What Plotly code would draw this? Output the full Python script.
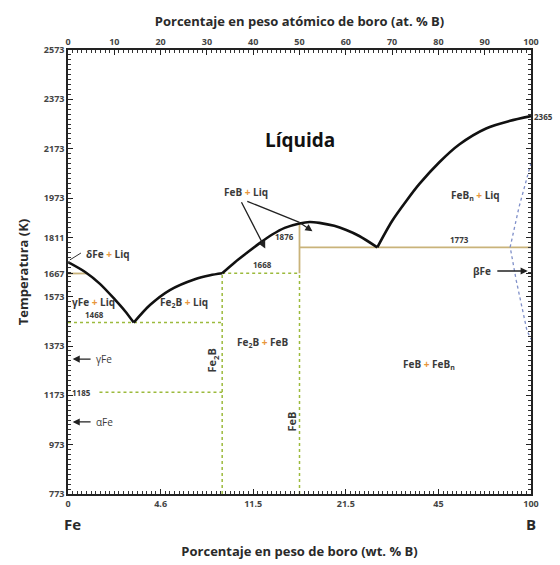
import plotly.graph_objects as go

# ---------------- data (x in at.% B, y in K) ----------------
liq_left_x = [0, 3.7, 6.9, 10.2, 12.3, 14.2]
liq_left_T = [1713, 1673, 1625, 1560, 1515, 1468]

liq_mid1_x = [14.2, 17.7, 22.0, 27.4, 30.7, 33.3]
liq_mid1_T = [1468, 1539, 1600, 1644, 1660, 1668]

liq_mid2_x = [33.3, 36.0, 38.6, 41.4, 44.2, 46.8, 50.0, 52.2, 54.3, 57.5, 60.1, 62.9, 66.8]
liq_mid2_T = [1668, 1712, 1750, 1790, 1826, 1852, 1870, 1876, 1872, 1860, 1843, 1819, 1773]

liq_right_x = [66.8, 70.0, 73.1, 75.9, 80.2, 84.5, 90.3, 95.3, 100]
liq_right_T = [1773, 1880, 1962, 2030, 2118, 2190, 2255, 2285, 2305]

beta_x = [100, 97.4, 95.5, 96.8, 99.1, 100]
beta_T = [2115, 1935, 1774, 1640, 1438, 1400]

fe2b_x = 33.3
feb_x = 50.0
T_eut1 = 1468
T_peri = 1668
T_eut2 = 1773
T_gamma = 1185
T_delta = 1667

y_ticks = [773, 973, 1173, 1373, 1573, 1667, 1811, 1973, 2173, 2373, 2573]
top_ticks = [0, 10, 20, 30, 40, 50, 60, 70, 80, 90, 100]
bottom_tickvals = [0, 20, 40, 60, 80, 100]
bottom_ticktext = ["0", "4.6", "11.5", "21.5", "45", "100"]

GREEN = "#9cba3c"
TAN = "#c9b37a"
BLUE = "#7f8fc9"
TXT = "#3a3a3a"
ORANGE = "#e8963a"
PLUS = '<span style="color:%s">+</span>' % ORANGE
FONT = "Open Sans"

fig = go.Figure()

def line(x, y, color, width, dash="solid"):
    fig.add_trace(go.Scatter(x=x, y=y, mode="lines", hoverinfo="skip",
                             line=dict(color=color, width=width, dash=dash, shape="spline", smoothing=0.8),
                             showlegend=False))

def straight(x, y, color, width, dash="solid"):
    fig.add_trace(go.Scatter(x=x, y=y, mode="lines", hoverinfo="skip",
                             line=dict(color=color, width=width, dash=dash),
                             showlegend=False))

# phase boundaries (straight)
straight([0, fe2b_x], [T_eut1, T_eut1], GREEN, 1.5, "dot")
straight([6.8, fe2b_x], [T_gamma, T_gamma], GREEN, 1.5, "dot")
straight([fe2b_x, feb_x], [T_peri, T_peri], GREEN, 1.5, "dot")
straight([fe2b_x, fe2b_x], [773, T_peri], GREEN, 1.5, "dot")
straight([feb_x, feb_x], [773, T_peri], GREEN, 1.5, "dot")
straight([feb_x, feb_x], [T_peri, 1870], TAN, 1.8)
straight([feb_x, 100], [T_eut2, T_eut2], TAN, 1.8)
straight([0, 4.0], [T_delta, T_delta], TAN, 1.8)

# beta boron solvus
straight(beta_x, beta_T, BLUE, 1.3, "dot")

# liquidus
line(liq_left_x, liq_left_T, "#111111", 2.6)
line(liq_mid1_x, liq_mid1_T, "#111111", 2.6)
line(liq_mid2_x, liq_mid2_T, "#111111", 2.6)
line(liq_right_x, liq_right_T, "#111111", 2.6)

# small hook from delta-Fe label to curve
straight([0.4, 2.8], [1722, 1750], "#333333", 1)

# invisible trace for top axis
fig.add_trace(go.Scatter(x=[0, 100], y=[773, 773], xaxis="x2", mode="markers",
                         marker=dict(opacity=0), hoverinfo="skip", showlegend=False))

ann = []
def txt(x, y, s, size=10, color=TXT, xanchor="center", yanchor="middle", angle=0, bold=True, xref="x", yref="y"):
    ann.append(dict(x=x, y=y, xref=xref, yref=yref, text=("<b>%s</b>" % s) if bold else s,
                    showarrow=False, font=dict(size=size, color=color, family=FONT),
                    xanchor=xanchor, yanchor=yanchor, textangle=angle))

txt(50, 2210, "Líquida", size=19, color="#111111")
txt(3.4, 1745, "δFe " + PLUS + " Liq", xanchor="left")
txt(0.5, 1551, "γFe " + PLUS + " Liq", xanchor="left")
txt(5.8, 1472, "1468", size=8, yanchor="bottom")
txt(25, 1551, "Fe<sub>2</sub>B " + PLUS + " Liq")
txt(42, 1389, "Fe<sub>2</sub>B " + PLUS + " FeB")
txt(78, 1296, "FeB " + PLUS + " FeB<sub>n</sub>")
txt(88, 1985, "FeB<sub>n</sub> " + PLUS + " Liq")
txt(84.6, 1775, "1773", size=8, yanchor="bottom")
txt(49.2, 1815, "1876", size=8, xanchor="right")
txt(42, 1672, "1668", size=8, yanchor="bottom")
txt(0.4, T_gamma, "1185", size=8, xanchor="left")
txt(31.2, 1316, "Fe<sub>2</sub>B", size=11, angle=-90)
txt(48.3, 1065, "FeB", size=11, angle=-90)
txt(5.6, 1320, "γFe", xanchor="left", bold=False, size=10)
txt(5.6, 1065, "αFe", xanchor="left", bold=False, size=10)
txt(91.8, 1677, "βFe", xanchor="right")
# 2365 label outside
ann.append(dict(x=100, y=2305, xref="x", yref="y", text="<b>2365</b>", showarrow=False,
                font=dict(size=8, color=TXT, family=FONT), xanchor="left", yanchor="middle", xshift=1))
# Fe and B end labels
ann.append(dict(x=0, y=-0.04, xref="x", yref="paper", text="<b>Fe</b>", showarrow=False,
                font=dict(size=15, color="#2a2a2a", family=FONT), xanchor="center", yanchor="top", xshift=4))
ann.append(dict(x=100, y=-0.04, xref="x", yref="paper", text="<b>B</b>", showarrow=False,
                font=dict(size=15, color="#2a2a2a", family=FONT), xanchor="center", yanchor="top"))
# FeB + Liq label
txt(38.5, 1998, "FeB " + PLUS + " Liq")

def arrow(x, y, ax, ay, head=2):
    ann.append(dict(x=x, y=y, ax=ax, ay=ay, xref="x", yref="y", axref="x", ayref="y",
                    text="", showarrow=True, arrowhead=head, arrowsize=1.1, arrowwidth=1.3,
                    arrowcolor="#222222"))

arrow(1.0, 1320, 5.2, 1320)
arrow(1.0, 1065, 5.2, 1065)
arrow(99.3, 1677, 92.4, 1677)
arrow(42.6, 1768, 37.3, 1962)
arrow(52.8, 1838, 50.0, 1874)
ann.append(dict(x=50.0, y=1874, ax=38.4, ay=1962, xref="x", yref="y", axref="x", ayref="y",
                text="", showarrow=True, arrowhead=0, arrowwidth=1.3, arrowcolor="#222222"))

axis_line = dict(showline=True, linecolor="#222222", linewidth=1.5, showgrid=False, zeroline=False, automargin=False)

fig.update_layout(
    width=560, height=565,
    margin=dict(l=68, r=29, t=50, b=71),
    paper_bgcolor="white", plot_bgcolor="white",
    annotations=ann,
    xaxis=dict(range=[0, 100], tickmode="array", tickvals=bottom_tickvals, ticktext=["<b>%s</b>" % t for t in bottom_ticktext],
               ticks="inside", ticklen=5, tickcolor="#222222",
               minor=dict(ticks="inside", ticklen=3, tickmode="linear", tick0=0, dtick=1, tickcolor="#333333"),
               tickfont=dict(size=9, color="#444444", family=FONT),
               title=dict(text="<b>Porcentaje en peso de boro (wt. % B)</b>", font=dict(size=13, color="#2a2a2a", family=FONT), standoff=38),
               **axis_line),
    xaxis2=dict(range=[0, 100], overlaying="x", side="top", anchor="y", tickmode="array", tickvals=top_ticks,
                ticktext=["<b>%d</b>" % t for t in top_ticks],
                ticks="inside", ticklen=5, tickcolor="#222222",
                minor=dict(ticks="inside", ticklen=3, tickmode="linear", tick0=0, dtick=1, tickcolor="#333333"),
                tickfont=dict(size=9, color="#444444", family=FONT),
                title=dict(text="<b>Porcentaje en peso atómico de boro (at. % B)</b>", font=dict(size=13, color="#2a2a2a", family=FONT), standoff=5),
                **axis_line),
    yaxis=dict(range=[773, 2573], tickmode="array", tickvals=y_ticks, ticktext=["<b>%d</b>" % t for t in y_ticks],
               ticks="inside", ticklen=5, tickcolor="#222222", mirror="ticks",
               minor=dict(ticks="inside", ticklen=3, tickmode="linear", tick0=773, dtick=20, tickcolor="#333333"),
               tickfont=dict(size=9, color="#444444", family=FONT),
               title=dict(text="<b>Temperatura (K)</b>", font=dict(size=13, color="#2a2a2a", family=FONT), standoff=12),
               **axis_line),
)

fig.write_html("out.html")
